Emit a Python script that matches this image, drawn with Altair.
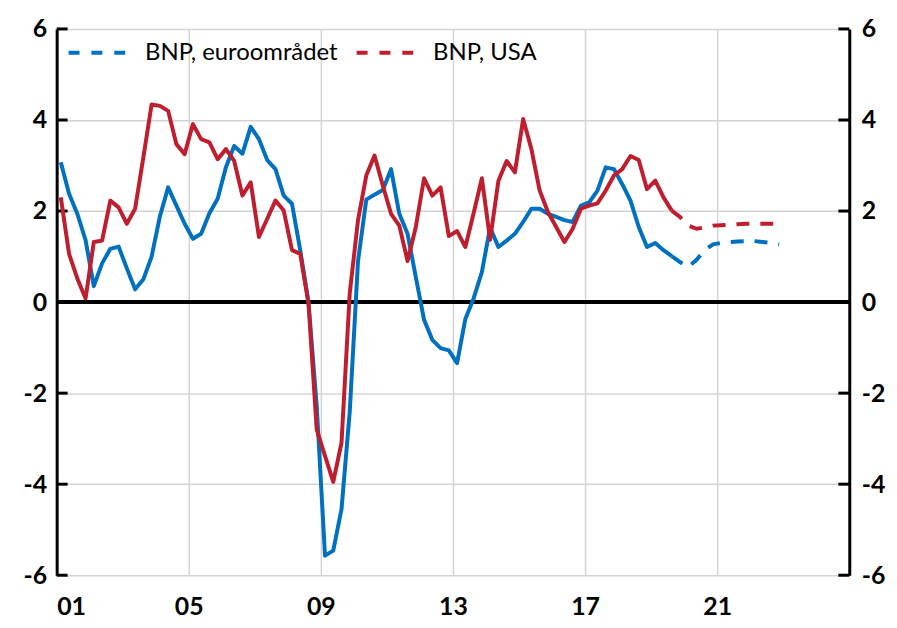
import altair as alt
import pandas as pd

series_names = ["BNP, euroområdet", "BNP, USA"]
series_colors = ["#0070C0", "#BF1E2E"]

# quarterly y/y growth, 2001Q1 .. 2022Q4 (index 74 = last outcome, then forecast)
blue = [3.07, 2.38, 1.94, 1.36, 0.35, 0.85, 1.17, 1.22, 0.74, 0.28,
        0.50, 1.00, 1.88, 2.52, 2.12, 1.72, 1.39, 1.50, 1.95, 2.27,
        2.96, 3.43, 3.26, 3.85, 3.58, 3.12, 2.92, 2.34, 2.16, 1.14,
        0.00, -2.29, -5.57, -5.46, -4.55, -2.40, 0.90, 2.25, 2.36, 2.46,
        2.92, 1.94, 1.50, 0.55, -0.39, -0.83, -1.01, -1.06, -1.34, -0.37,
        0.08, 0.66, 1.64, 1.21, 1.35, 1.50, 1.76, 2.05, 2.05, 1.94,
        1.87, 1.80, 1.76, 2.12, 2.19, 2.45, 2.96, 2.92, 2.59, 2.23,
        1.65, 1.21, 1.30, 1.14, 1.01, 0.88, 0.77, 0.93, 1.14, 1.27,
        1.30, 1.32, 1.33, 1.34, 1.34, 1.32, 1.30, 1.27]
red = [2.30, 1.06, 0.52, 0.08, 1.32, 1.35, 2.23, 2.08, 1.72, 2.05,
       3.18, 4.34, 4.31, 4.20, 3.47, 3.25, 3.91, 3.58, 3.51, 3.14,
       3.36, 3.10, 2.34, 2.63, 1.43, 1.83, 2.23, 2.01, 1.14, 1.06,
       -0.03, -2.80, -3.38, -3.95, -3.09, 0.20, 1.80, 2.78, 3.22, 2.56,
       1.94, 1.68, 0.90, 1.65, 2.72, 2.34, 2.52, 1.45, 1.56, 1.21,
       1.95, 2.72, 1.37, 2.66, 3.10, 2.85, 4.02, 3.36, 2.45, 1.98,
       1.65, 1.32, 1.61, 2.05, 2.12, 2.17, 2.45, 2.78, 2.92, 3.21,
       3.12, 2.48, 2.67, 2.30, 2.01, 1.87, 1.68, 1.61, 1.64, 1.68,
       1.69, 1.70, 1.71, 1.72, 1.72, 1.72, 1.72, 1.72]
last_actual = 74
start_year = 2001

y_ticks = [-6, -4, -2, 0, 2, 4, 6]
x_ticks = [2001, 2005, 2009, 2013, 2017, 2021]

rows = []
for name, vals in zip(series_names, [blue, red]):
    for i, v in enumerate(vals):
        rows.append({"series": name, "t": start_year + (i + 0.5) / 4, "v": v, "i": i})
df = pd.DataFrame(rows)
hist = df[df["i"] <= last_actual]
fcst = df[df["i"] >= last_actual]

W, H = 798, 550
FONT = "Lato"
y_label_expr = "datum.value < 0 ? '-' + toString(abs(datum.value)) : toString(datum.value)"

xscale = alt.Scale(domain=[2001, 2025], nice=False, zero=False)
yscale = alt.Scale(domain=[-6, 6], nice=False, zero=False)

x_axis = alt.Axis(values=x_ticks, labelExpr="substring(toString(datum.value), 2, 4)",
                  grid=True, gridColor="#d4d4d4", gridWidth=1.5, domain=False, ticks=False,
                  labelFont=FONT, labelFontSize=25, labelFontWeight="bold", labelColor="black",
                  labelPadding=20, title=None)
left_axis = alt.Axis(values=y_ticks, labelExpr=y_label_expr, grid=True, gridColor="#d4d4d4",
                     gridWidth=1.5, domain=True, domainColor="black", domainWidth=3, ticks=False,
                     labelFont=FONT, labelFontSize=25, labelFontWeight="bold", labelColor="black",
                     labelPadding=10, title=None)
right_axis = alt.Axis(values=y_ticks, labelExpr=y_label_expr, orient="right", grid=False,
                      domain=True, domainColor="black", domainWidth=3, ticks=False,
                      labelFont=FONT, labelFontSize=25, labelFontWeight="bold", labelColor="black",
                      labelPadding=12, title=None)

legend = alt.Legend(title=None, orient="none", legendX=10, legendY=-12, direction="horizontal",
                    symbolType="stroke", symbolSize=4624, symbolStrokeWidth=4,
                    symbolDash=[11, 12], labelFont=FONT, labelFontSize=24, labelColor="black",
                    labelOffset=7, columnPadding=11, padding=0, labelLimit=400)
color = alt.Color("series:N", scale=alt.Scale(domain=series_names, range=series_colors), legend=legend)

ticks_df = pd.DataFrame({"v": y_ticks})
zero_df = pd.DataFrame({"v": [0]})

zero = alt.Chart(zero_df).mark_rule(color="black", strokeWidth=4).encode(
    y=alt.Y("v:Q", scale=yscale, axis=left_axis), x=alt.value(0), x2=alt.value(W))

left_ticks = alt.Chart(ticks_df).mark_rule(color="black", strokeWidth=3).encode(
    y=alt.Y("v:Q", scale=yscale, axis=None), x=alt.value(0), x2=alt.value(11))
right_ticks = alt.Chart(ticks_df).mark_rule(color="black", strokeWidth=3).encode(
    y=alt.Y("v:Q", scale=yscale, axis=right_axis), x=alt.value(W - 11), x2=alt.value(W))

hist_lines = alt.Chart(hist).mark_line(strokeWidth=4, strokeJoin="round").encode(
    x=alt.X("t:Q", scale=xscale, axis=x_axis),
    y=alt.Y("v:Q", scale=yscale, axis=None),
    color=color, detail="series:N")
fcst_lines = alt.Chart(fcst).mark_line(strokeWidth=4, strokeDash=[13, 11]).encode(
    x=alt.X("t:Q", scale=xscale, axis=x_axis),
    y=alt.Y("v:Q", scale=yscale, axis=None),
    color=color, detail="series:N")

chart = alt.layer(zero, left_ticks, right_ticks, hist_lines, fcst_lines).resolve_scale(
    y="independent"
).properties(
    width=W, height=H,
    autosize=alt.AutoSizeParams(type="none"),
    padding={"left": 49, "top": 19, "right": 40, "bottom": 45},
    background="white",
).configure_view(stroke=None)

chart.save("out.html", embed_options={"renderer": "svg", "actions": False})
